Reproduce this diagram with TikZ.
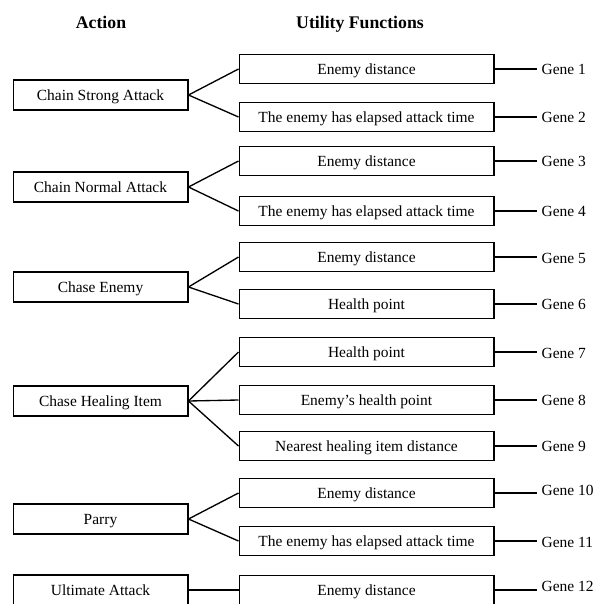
\documentclass[tikz,border=0pt]{standalone}
\usepackage{fontspec}
\setmainfont{Liberation Serif}
\usetikzlibrary{positioning}

\begin{document}
\begin{tikzpicture}[x=0.75pt, y=-0.75pt, line width=1pt,
        action/.style ={rectangle, draw, minimum width=131pt, minimum height=22.5pt,
        inner sep=0pt, text height=8pt, text depth=0.4pt, font=\fontsize{11.6}{13}\selectfont},
        utility/.style ={rectangle, draw, minimum width=191pt, minimum height=21.75pt,
        inner sep=0pt, text height=8pt, text depth=0.4pt, font=\fontsize{11.6}{13}\selectfont},
        gene/.style ={anchor=west, inner sep=3pt, text height=8pt, text depth=0.4pt,
        font=\fontsize{11.6}{13}\selectfont},
        heading/.style ={text height=9pt, text depth=0.4pt, font=\fontsize{13.3}{15}\selectfont\bfseries}]

        \useasboundingbox (0, 0) rectangle (597, 604);

        %encabezados
        \node[heading] (hact) at (101, 23) {Action};
        \node[heading] (hutil) at (360, 23) {Utility Functions};

        %acciones
        \node[action] (a1) at (100.5, 95) {Chain Strong Attack};
        \node[action] (a2) at (100.5, 187) {Chain Normal Attack};
        \node[action] (a3) at (100.5, 287) {Chase Enemy};
        \node[action] (a4) at (100.5, 401) {Chase Healing Item};
        \node[action] (a5) at (100.5, 519) {Parry};
        \node[action] (a6) at (100.5, 590) {Ultimate Attack};

        %funciones de utilidad
        \node[utility] (u1) at (366.5, 69) {Enemy distance};
        \node[utility] (u2) at (366.5, 117) {The enemy has elapsed attack time};
        \node[utility] (u3) at (366.5, 161) {Enemy distance};
        \node[utility] (u4) at (366.5, 211) {The enemy has elapsed attack time};
        \node[utility] (u5) at (366.5, 257) {Enemy distance};
        \node[utility] (u6) at (366.5, 304) {Health point};
        \node[utility] (u7) at (366.5, 352) {Health point};
        \node[utility] (u8) at (366.5, 400) {Enemy’s health point};
        \node[utility] (u9) at (366.5, 446) {Nearest healing item distance};
        \node[utility] (u10) at (366.5, 493) {Enemy distance};
        \node[utility] (u11) at (366.5, 541) {The enemy has elapsed attack time};
        \node[utility] (u12) at (366.5, 590) {Enemy distance};

        %genes
        \node[gene] (g1) at (537, 69) {Gene 1};
        \node[gene] (g2) at (537, 117) {Gene 2};
        \node[gene] (g3) at (537, 161) {Gene 3};
        \node[gene] (g4) at (537, 211) {Gene 4};
        \node[gene] (g5) at (537, 258) {Gene 5};
        \node[gene] (g6) at (537, 304) {Gene 6};
        \node[gene] (g7) at (537, 353) {Gene 7};
        \node[gene] (g8) at (537, 400) {Gene 8};
        \node[gene] (g9) at (537, 446) {Gene 9};
        \node[gene] (g10) at (537, 490) {Gene 10};
        \node[gene] (g11) at (537, 542) {Gene 11};
        \node[gene] (g12) at (537, 586) {Gene 12};

        \draw (a1.east) -- (u1.west);
        \draw (a1.east) -- (u2.west);
        \draw (a2.east) -- (u3.west);
        \draw (a2.east) -- (u4.west);
        \draw (a3.east) -- (u5.west);
        \draw (a3.east) -- (u6.west);
        \draw (a4.east) -- (u7.west);
        \draw (a4.east) -- (u8.west);
        \draw (a4.east) -- (u9.west);
        \draw (a5.east) -- (u10.west);
        \draw (a5.east) -- (u11.west);
        \draw (a6.east) -- (u12.west);

        \draw (u1.east) -- (u1.east -| g1.west);
        \draw (u2.east) -- (u2.east -| g2.west);
        \draw (u3.east) -- (u3.east -| g3.west);
        \draw (u4.east) -- (u4.east -| g4.west);
        \draw (u5.east) -- (u5.east -| g5.west);
        \draw (u6.east) -- (u6.east -| g6.west);
        \draw (u7.east) -- (u7.east -| g7.west);
        \draw (u8.east) -- (u8.east -| g8.west);
        \draw (u9.east) -- (u9.east -| g9.west);
        \draw (u10.east) -- (u10.east -| g10.west);
        \draw (u11.east) -- (u11.east -| g11.west);
        \draw (u12.east) -- (u12.east -| g12.west);
    \end{tikzpicture}
\end{document}
